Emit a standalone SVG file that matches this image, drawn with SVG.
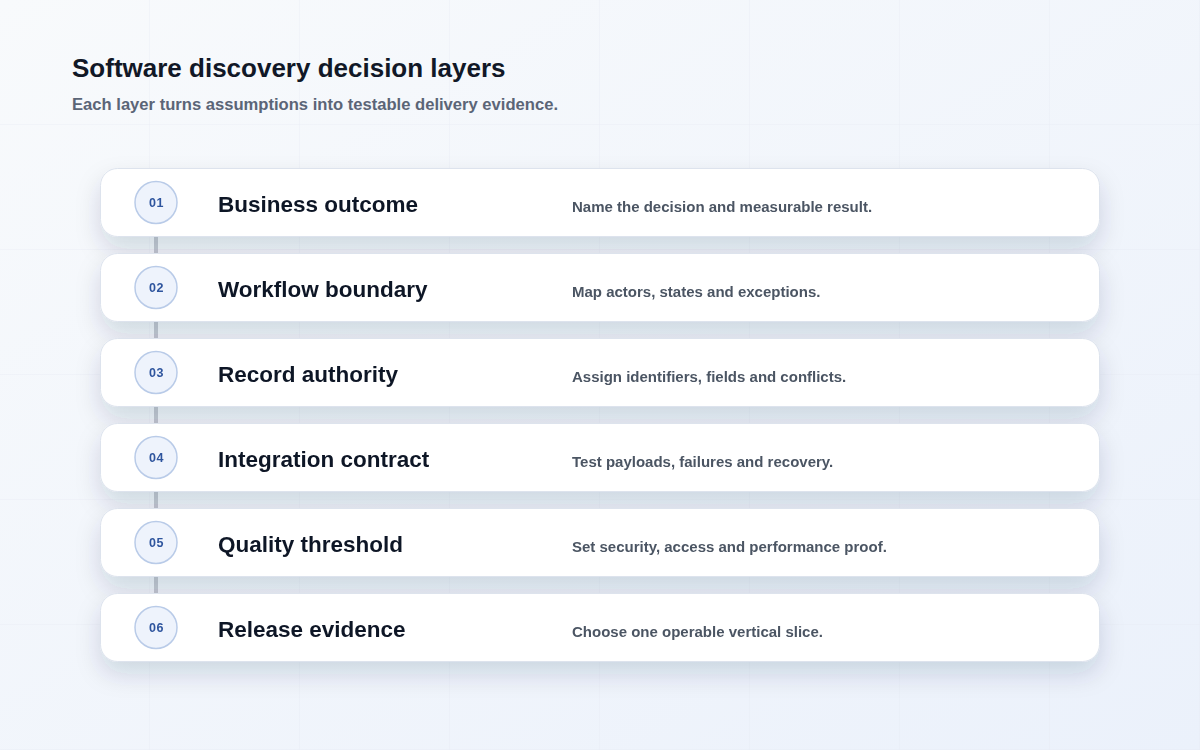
<svg xmlns="http://www.w3.org/2000/svg" width="1200" height="750" viewBox="0 0 1200 750">
<defs>
<linearGradient id="bg" x1="0" y1="0" x2="1" y2="1">
<stop offset="0" stop-color="#f8fafc"/>
<stop offset="1" stop-color="#ebf1fb"/>
</linearGradient>
<filter id="sh" x="-10%" y="-40%" width="120%" height="220%">
<feDropShadow dx="0" dy="12" stdDeviation="12" flood-color="#1e2a4a" flood-opacity="0.15"/>
</filter>
<pattern id="grid" width="150" height="125" patternUnits="userSpaceOnUse">
<path d="M150 0V125M0 125H150" fill="none" stroke="#e3e8f0" stroke-width="1" opacity="0.6"/>
</pattern>
</defs>
<style>
.card{fill:#ffffff;stroke:#dde3ed;stroke-width:1}
.badge{fill:#eef3fc;stroke:#b9cbe8;stroke-width:1.5}
.num{font-family:"Liberation Sans",Arial,sans-serif;font-size:12.5px;font-weight:700;fill:#2f559e;text-anchor:middle;letter-spacing:0.6px}
.title{font-family:"Liberation Sans",Arial,sans-serif;font-size:22.5px;font-weight:700;fill:#111827}
.desc{font-family:"Liberation Sans",Arial,sans-serif;font-size:15px;font-weight:700;fill:#4b5563}
.link{stroke:#c5c9d2;stroke-width:4}
</style>
<rect width="1200" height="750" fill="url(#bg)"/>
<rect width="1200" height="750" fill="url(#grid)"/>
<text x="72" y="77" font-family="'Liberation Sans',Arial,sans-serif" font-size="26" font-weight="700" fill="#111827">Software discovery decision layers</text>
<text x="72" y="110" font-family="'Liberation Sans',Arial,sans-serif" font-size="16.6" font-weight="700" fill="#5b6577">Each layer turns assumptions into testable delivery evidence.</text>
<g id="connectors">
<line class="link" x1="156" y1="237" x2="156" y2="253"/>
<line class="link" x1="156" y1="322" x2="156" y2="338"/>
<line class="link" x1="156" y1="407" x2="156" y2="423"/>
<line class="link" x1="156" y1="492" x2="156" y2="508"/>
<line class="link" x1="156" y1="577" x2="156" y2="593"/>
</g>
<g id="layer-01" filter="url(#sh)">
<rect class="card" x="100.5" y="168.5" width="999" height="68" rx="17"/>
<circle class="badge" cx="156" cy="202.5" r="21"/>
<text class="num" x="156.5" y="207">01</text>
<text class="title" x="218" y="212">Business outcome</text>
<text class="desc" x="572" y="212">Name the decision and measurable result.</text>
</g>
<g id="layer-02" filter="url(#sh)">
<rect class="card" x="100.5" y="253.5" width="999" height="68" rx="17"/>
<circle class="badge" cx="156" cy="287.5" r="21"/>
<text class="num" x="156.5" y="292">02</text>
<text class="title" x="218" y="297">Workflow boundary</text>
<text class="desc" x="572" y="297">Map actors, states and exceptions.</text>
</g>
<g id="layer-03" filter="url(#sh)">
<rect class="card" x="100.5" y="338.5" width="999" height="68" rx="17"/>
<circle class="badge" cx="156" cy="372.5" r="21"/>
<text class="num" x="156.5" y="377">03</text>
<text class="title" x="218" y="382">Record authority</text>
<text class="desc" x="572" y="382">Assign identifiers, fields and conflicts.</text>
</g>
<g id="layer-04" filter="url(#sh)">
<rect class="card" x="100.5" y="423.5" width="999" height="68" rx="17"/>
<circle class="badge" cx="156" cy="457.5" r="21"/>
<text class="num" x="156.5" y="462">04</text>
<text class="title" x="218" y="467">Integration contract</text>
<text class="desc" x="572" y="467">Test payloads, failures and recovery.</text>
</g>
<g id="layer-05" filter="url(#sh)">
<rect class="card" x="100.5" y="508.5" width="999" height="68" rx="17"/>
<circle class="badge" cx="156" cy="542.5" r="21"/>
<text class="num" x="156.5" y="547">05</text>
<text class="title" x="218" y="552">Quality threshold</text>
<text class="desc" x="572" y="552">Set security, access and performance proof.</text>
</g>
<g id="layer-06" filter="url(#sh)">
<rect class="card" x="100.5" y="593.5" width="999" height="68" rx="17"/>
<circle class="badge" cx="156" cy="627.5" r="21"/>
<text class="num" x="156.5" y="632">06</text>
<text class="title" x="218" y="637">Release evidence</text>
<text class="desc" x="572" y="637">Choose one operable vertical slice.</text>
</g>
</svg>
